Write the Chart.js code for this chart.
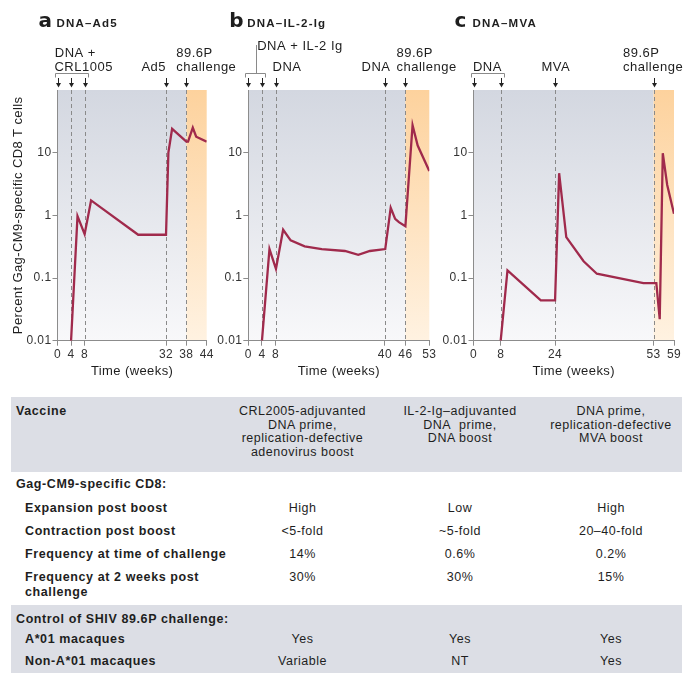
<!DOCTYPE html>
<html>
<head>
<meta charset="utf-8">
<script src="https://cdn.jsdelivr.net/npm/chart.js@4.4.0/dist/chart.umd.min.js"></script>
<style>
  body { margin: 0; background: #fff; font-family: "Liberation Sans", Arial, sans-serif; color: #1e1e1e; }
  #page { position: relative; width: 685px; height: 682px; overflow: hidden; }
  #page canvas { position: absolute; left: 0; top: 0; }
  .summary { position: absolute; left: 11px; top: 397px; width: 671px; border-collapse: collapse; table-layout: fixed;
             font-size: 12.5px; letter-spacing: 0.5px; line-height: 14px; }
  .summary td, .summary th { padding: 0; vertical-align: top; text-align: center; font-weight: normal; white-space: nowrap; }
  .summary .lab { text-align: left; font-weight: bold; padding-left: 5px; letter-spacing: 0.6px; overflow: visible; }
  .summary .sub { padding-left: 14px; }
  .summary .shade { background: #dcdee5; }
  .summary .head td, .summary .head th { padding-top: 8px; line-height: 13.5px; }
</style>
</head>
<body>
<div id="page">
  <canvas id="chartA" width="685" height="385"></canvas>
  <canvas id="chartB" width="685" height="385"></canvas>
  <canvas id="chartC" width="685" height="385"></canvas>

  <table class="summary">
    <colgroup><col style="width:214px"><col style="width:155px"><col style="width:160px"><col style="width:142px"></colgroup>
    <tr class="shade head" style="height:75px">
      <th class="lab">Vaccine</th>
      <td>CRL2005-adjuvanted<br>DNA prime,<br>replication-defective<br>adenovirus boost</td>
      <td>IL-2-Ig–adjuvanted<br>DNA&nbsp; prime,<br>DNA boost</td>
      <td>DNA prime,<br>replication-defective<br>MVA boost</td>
    </tr>
    <tr style="height:24px"><td class="lab" colspan="4" style="padding-top:5px">Gag-CM9-specific CD8:</td></tr>
    <tr style="height:24px">
      <td class="lab sub" style="padding-top:4.5px">Expansion post boost</td>
      <td style="padding-top:4.5px">High</td><td style="padding-top:4.5px">Low</td><td style="padding-top:4.5px">High</td>
    </tr>
    <tr style="height:23px">
      <td class="lab sub" style="padding-top:4px">Contraction post boost</td>
      <td style="padding-top:4px">&lt;5-fold</td><td style="padding-top:4px">~5-fold</td><td style="padding-top:4px">20–40-fold</td>
    </tr>
    <tr style="height:23px">
      <td class="lab sub" style="padding-top:4px">Frequency at time of challenge</td>
      <td style="padding-top:4px">14%</td><td style="padding-top:4px">0.6%</td><td style="padding-top:4px">0.2%</td>
    </tr>
    <tr style="height:39px">
      <td class="lab sub" style="padding-top:4px;line-height:15px">Frequency at 2 weeks post<br>challenge</td>
      <td style="padding-top:4px;line-height:15px">30%</td><td style="padding-top:4px;line-height:15px">30%</td><td style="padding-top:4px;line-height:15px">15%</td>
    </tr>
    <tr class="shade" style="height:26px"><td class="lab" colspan="4" style="padding-top:7px">Control of SHIV 89.6P challenge:</td></tr>
    <tr class="shade" style="height:20px">
      <td class="lab sub" style="padding-top:1px">A*01 macaques</td>
      <td style="padding-top:1px">Yes</td><td style="padding-top:1px">Yes</td><td style="padding-top:1px">Yes</td>
    </tr>
    <tr class="shade" style="height:22px">
      <td class="lab sub" style="padding-top:3px">Non-A*01 macaques</td>
      <td style="padding-top:3px">Variable</td><td style="padding-top:3px">NT</td><td style="padding-top:3px">Yes</td>
    </tr>
  </table>
</div>

<script>
// values (weeks, percent of CD8 T cells)
const yTicks = [0.01, 0.1, 1, 10];

const weeksA = [4, 5.9, 8, 9.9, 23.8, 32, 32.7, 33.8, 38, 38.5, 39.9, 40.9, 44];
const valuesA = [0.01, 0.97, 0.5, 1.73, 0.49, 0.49, 10, 24, 15, 15, 25, 18, 15];
const xTicksA = [0, 4, 8, 32, 38, 44];
const shotsA = [0, 4, 8, 32, 38];

const weeksB = [4, 6.2, 8.1, 10.2, 12.4, 16.5, 21.5, 28.3, 32.2, 35.6, 40.1, 41.7, 43, 44.1, 46, 48.1, 49.6, 53];
const valuesB = [0.01, 0.29, 0.14, 0.59, 0.4, 0.32, 0.29, 0.27, 0.235, 0.27, 0.29, 1.32, 0.88, 0.78, 0.67, 27.5, 13, 5.1];
const xTicksB = [0, 4, 8, 40, 46, 53];
const shotsB = [0, 4, 8, 40, 46];

const weeksC = [8, 10, 19.8, 24, 25.2, 27.3, 32.4, 36.3, 50, 53.8, 54.8, 55.7, 57, 59];
const valuesC = [0.01, 0.132, 0.044, 0.044, 4.7, 0.45, 0.185, 0.117, 0.083, 0.083, 0.022, 9.8, 3.05, 1.06];
const xTicksC = [0, 8, 24, 53, 59];
const shotsC = [0, 8, 24, 53];

const FONT = '"Liberation Sans", Arial, sans-serif';
const LINE = '#a02a4c';
const AXIS = '#8c8c8c';

const panels = [
  { canvas: 'chartA', letter: 'a', name: 'DNA–Ad5', weeks: weeksA, values: valuesA, ticks: xTicksA, shots: shotsA,
    challenge: 38, end: 44, plotLeft: 57.5, plotRight: 206.7, yWidth: 57.5, yTitle: true,
    bracket: [0, 8], leader: false,
    notes: [
      { text: 'DNA +', at: -0.8, align: 'left', y: 57 },
      { text: 'CRL1005', at: -0.9, align: 'left', y: 71 },
      { text: 'Ad5', at: 32, align: 'right', y: 71 },
      { text: '89.6P', at: 35, align: 'left', y: 57 },
      { text: 'challenge', at: 35, align: 'left', y: 71 }
    ] },
  { canvas: 'chartB', letter: 'b', name: 'DNA–IL-2-Ig', weeks: weeksB, values: valuesB, ticks: xTicksB, shots: shotsB,
    challenge: 46, end: 53, plotLeft: 248.3, plotRight: 429.3, yWidth: 40, yTitle: false,
    bracket: [0, 4], leader: true,
    notes: [
      { text: 'DNA + IL-2 Ig', at: 2.6, align: 'left', y: 49.5 },
      { text: 'DNA', at: 7.1, align: 'left', y: 70.5 },
      { text: 'DNA', at: 37.4, align: 'center', y: 70.5 },
      { text: '89.6P', at: 43.4, align: 'left', y: 57 },
      { text: 'challenge', at: 43.4, align: 'left', y: 71 }
    ] },
  { canvas: 'chartC', letter: 'c', name: 'DNA–MVA', weeks: weeksC, values: valuesC, ticks: xTicksC, shots: shotsC,
    challenge: 53, end: 59, plotLeft: 473.5, plotRight: 674, yWidth: 40, yTitle: false,
    bracket: [0, 8], leader: false,
    notes: [
      { text: 'DNA', at: 4.1, align: 'center', y: 71 },
      { text: 'MVA', at: 24.2, align: 'center', y: 71 },
      { text: '89.6P', at: 44, align: 'left', y: 57 },
      { text: 'challenge', at: 44, align: 'left', y: 71 }
    ] }
];

const decor = {
  id: 'decor',
  beforeUpdate(chart) { chart.ctx.letterSpacing = '0.4px'; },
  beforeDraw(chart, args, o) {
    const { ctx, chartArea: ca, scales: { x } } = chart;
    ctx.letterSpacing = '0.4px';
    const cx = x.getPixelForValue(o.challenge);
    let g = ctx.createLinearGradient(0, ca.top, 0, ca.bottom);
    g.addColorStop(0, '#d3d7e0');
    g.addColorStop(1, '#f8f8fa');
    ctx.fillStyle = g;
    ctx.fillRect(ca.left, ca.top, cx - ca.left, ca.bottom - ca.top);
    g = ctx.createLinearGradient(0, ca.top, 0, ca.bottom);
    g.addColorStop(0, '#fdd29d');
    g.addColorStop(1, '#fff2e1');
    ctx.fillStyle = g;
    ctx.fillRect(cx, ca.top, ca.right - cx, ca.bottom - ca.top);
  },
  beforeDatasetsDraw(chart, args, o) {
    const { ctx, chartArea: ca, scales: { x } } = chart;
    ctx.save();
    ctx.strokeStyle = '#8a8a8a';
    ctx.lineWidth = 1;
    ctx.setLineDash([4, 3]);
    o.shots.filter(w => w > 0).forEach(w => {
      const px = Math.round(x.getPixelForValue(w)) + 0.5;
      ctx.beginPath();
      ctx.moveTo(px, ca.top);
      ctx.lineTo(px, ca.bottom);
      ctx.stroke();
    });
    ctx.restore();
  },
  afterDraw(chart, args, o) {
    const { ctx, chartArea: ca, scales: { x } } = chart;
    ctx.save();
    // arrows at each immunisation / challenge
    ctx.strokeStyle = '#222';
    ctx.fillStyle = '#222';
    ctx.lineWidth = 1;
    o.shots.forEach(w => {
      const px = Math.round(x.getPixelForValue(w)) + 0.5;
      ctx.beginPath();
      ctx.moveTo(px, 78);
      ctx.lineTo(px, 84);
      ctx.stroke();
      ctx.beginPath();
      ctx.moveTo(px - 2.5, 83);
      ctx.lineTo(px + 2.5, 83);
      ctx.lineTo(px, 87.5);
      ctx.closePath();
      ctx.fill();
    });
    // bracket over the priming shots
    const l = Math.round(x.getPixelForValue(o.bracket[0]) - 3) + 0.5;
    const r = Math.round(x.getPixelForValue(o.bracket[1]) + 3) + 0.5;
    ctx.strokeStyle = '#8a8a8a';
    ctx.beginPath();
    ctx.moveTo(l, 77.5);
    ctx.lineTo(l, 73.5);
    ctx.lineTo(r, 73.5);
    ctx.lineTo(r, 77.5);
    ctx.stroke();
    if (o.leader) {
      const m = Math.round((l + r) / 2) + 0.5;
      ctx.beginPath();
      ctx.moveTo(m, 73.5);
      ctx.lineTo(m, 45);
      ctx.stroke();
    }
    // labels
    ctx.fillStyle = '#1e1e1e';
    ctx.font = '13px ' + FONT;
    ctx.letterSpacing = '0.5px';
    ctx.textBaseline = 'alphabetic';
    o.notes.forEach(n => {
      ctx.textAlign = n.align;
      ctx.fillText(n.text, x.getPixelForValue(n.at), n.y);
    });
    // panel title
    ctx.textAlign = 'left';
    ctx.letterSpacing = '0px';
    ctx.font = 'bold 20px "DejaVu Sans", sans-serif';
    ctx.fillText(o.letter, ca.left - 19, 27);
    ctx.font = 'bold 11.5px ' + FONT;
    ctx.letterSpacing = '1.2px';
    ctx.fillText(o.name, ca.left - 1, 27);
    ctx.restore();
  }
};

panels.forEach(p => {
  new Chart(document.getElementById(p.canvas), {
    type: 'line',
    data: {
      datasets: [{
        data: p.weeks.map((w, i) => ({ x: w, y: p.values[i] })),
        borderColor: LINE,
        borderWidth: 2.3,
        pointRadius: 0,
        tension: 0,
        fill: false
      }]
    },
    options: {
      responsive: false,
      animation: false,
      devicePixelRatio: 1,
      events: [],
      layout: { padding: { left: p.plotLeft - p.yWidth, right: 685 - p.plotRight, top: 90, bottom: 0 } },
      plugins: {
        legend: { display: false },
        tooltip: { enabled: false },
        decor: { challenge: p.challenge, shots: p.shots, bracket: p.bracket, leader: p.leader,
                 notes: p.notes, letter: p.letter, name: p.name }
      },
      scales: {
        x: {
          type: 'linear', min: 0, max: p.end,
          afterBuildTicks: s => { s.ticks = p.ticks.map(v => ({ value: v })); },
          afterFit: s => { s.height = 44.3; },
          grid: { drawOnChartArea: false, drawTicks: true, tickLength: 5, color: AXIS },
          border: { color: AXIS },
          ticks: { color: '#333', font: { size: 12, family: FONT }, padding: 2, maxRotation: 0, autoSkip: false,
                   callback: v => String(v) },
          title: { display: true, text: 'Time (weeks)', color: '#1e1e1e', font: { size: 13, family: FONT },
                   padding: { top: 0, bottom: 6 } }
        },
        y: {
          type: 'logarithmic', min: 0.01, max: 100,
          afterBuildTicks: s => { s.ticks = yTicks.map(v => ({ value: v })); },
          afterFit: s => { s.width = p.yWidth; },
          grid: { drawOnChartArea: false, drawTicks: true, tickLength: 5, color: AXIS },
          border: { color: AXIS },
          ticks: { color: '#333', font: { size: 12, family: FONT }, padding: 1, callback: v => String(v) },
          title: { display: p.yTitle, text: 'Percent Gag-CM9-specific CD8 T cells', color: '#1e1e1e',
                   font: { size: 13, family: FONT }, padding: { top: 10.5, bottom: 0 } }
        }
      }
    },
    plugins: [decor]
  });
});
</script>
</body>
</html>
